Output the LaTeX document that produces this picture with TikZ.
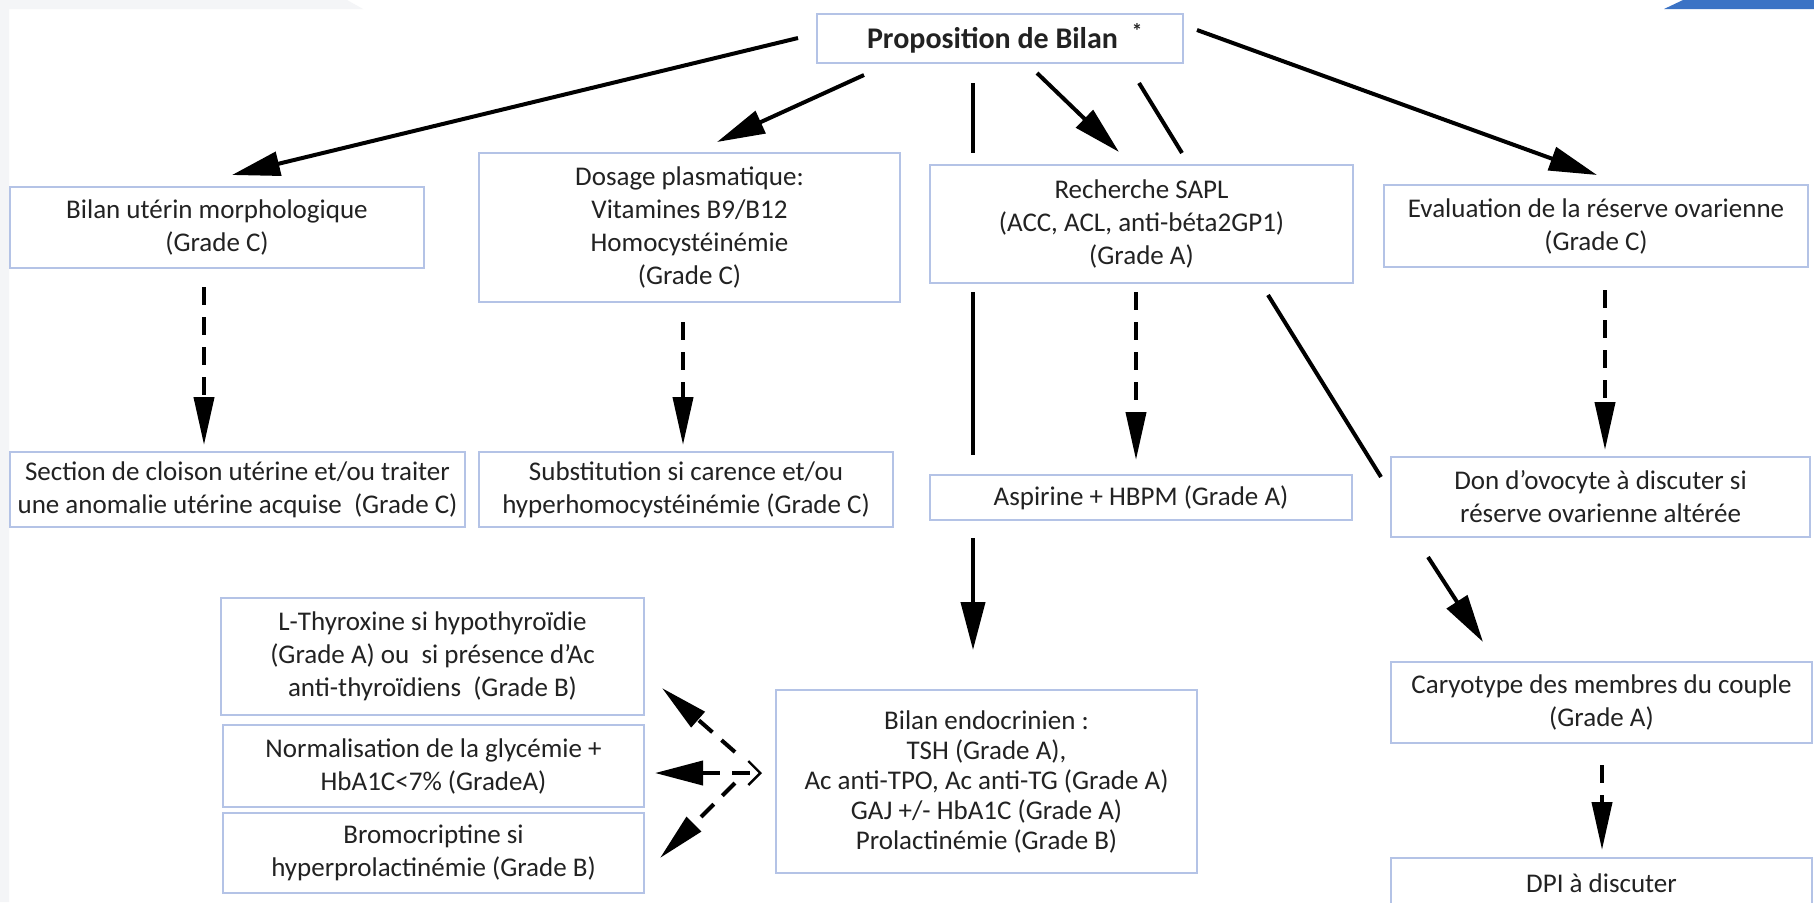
\documentclass[tikz,border=0pt]{standalone}
\usepackage{fontspec}
\setmainfont{Carlito}
\usetikzlibrary{arrows.meta}
\definecolor{boxc}{HTML}{B4C3E6}
\definecolor{txt}{HTML}{222222}
\definecolor{bgrey}{HTML}{F4F5F7}
\definecolor{cblue}{HTML}{3B73C5}
\tikzset{
  box/.style={draw=boxc, line width=1.2pt, fill=white, align=center, inner sep=0pt,
    font=\fontsize{13.5}{16.5}\selectfont, text=txt},
  arr/.style={line width=2pt, -{Triangle[length=24pt,width=12pt]}},
  darr/.style={line width=2pt, dash pattern=on 9pt off 6pt, -{Triangle[length=24pt,width=10pt]}},
  plain/.style={line width=2pt},
}
\begin{document}
\begin{tikzpicture}[x=0.5pt,y=-0.5pt]
\useasboundingbox (0,0) rectangle (1814,902);
\clip (0,0) rectangle (1814,902);
\fill[white] (0,0) rectangle (1814,902);
\fill[bgrey] (0,0) -- (347,0) -- (363,9) -- (9,9) -- (9,902) -- (0,902) -- cycle;
\fill[cblue] (1664,9) -- (1683,0) -- (1814,0) -- (1814,9) -- cycle;

% nodes
\node[box, minimum width=183pt, minimum height=24.5pt, font=\fontsize{15}{18}\selectfont\bfseries] (prop) at (1000,38.5)
  {\makebox[183pt][l]{\hspace{25pt}Proposition de Bilan\hspace{7pt}\textsuperscript{*}}};
\node[box, minimum width=207pt, minimum height=40.5pt] (uter) at (217,227.5) {Bilan utérin morphologique\\(Grade C)};
\node[box, minimum width=210.5pt, minimum height=74.5pt] (dos) at (689.5,227.5) {Dosage plasmatique:\\Vitamines B9/B12\\Homocystéinémie\\(Grade C)};
\node[box, minimum width=211.5pt, minimum height=59pt] (sapl) at (1141.5,224) {Recherche SAPL\\(ACC, ACL, anti-béta2GP1)\\(Grade A)};
\node[box, minimum width=212pt, minimum height=41pt] (eval) at (1596,226) {Evaluation de la réserve ovarienne\\(Grade C)};
\node[box, minimum width=227.5pt, minimum height=37.5pt] (sect) at (237.5,489.5) {Section de cloison utérine et/ou traiter\\une anomalie utérine acquise~~(Grade C)};
\node[box, minimum width=207pt, minimum height=37.5pt] (subst) at (686,489.5) {Substitution si carence et/ou\\hyperhomocystéinémie (Grade C)};
\node[box, minimum width=211pt, minimum height=22.5pt] (asp) at (1141,497.5) {Aspirine + HBPM (Grade A)};
\node[box, minimum width=209.5pt, minimum height=40pt] (don) at (1600.5,497) {Don d’ovocyte à discuter si\\réserve ovarienne altérée};
\node[box, minimum width=211.5pt, minimum height=58.5pt] (thyr) at (432.5,656.5) {L-Thyroxine si hypothyroïdie\\(Grade A) ou~ si présence d’Ac\\anti-thyroïdiens~ (Grade B)};
\node[box, minimum width=210.5pt, minimum height=41pt] (norm) at (433.5,766) {Normalisation de la glycémie +\\HbA1C<7\% (GradeA)};
\node[box, minimum width=210.5pt, minimum height=40pt] (brom) at (433.5,853) {Bromocriptine si\\hyperprolactinémie (Grade B)};
\node[box, minimum width=210.5pt, minimum height=91.5pt, font=\fontsize{13.5}{15}\selectfont] (endo) at (986.5,781.5) {Bilan endocrinien :\\TSH (Grade A),\\Ac anti-TPO, Ac anti-TG (Grade A)\\GAJ +/- HbA1C (Grade A)\\Prolactinémie (Grade B)};
\node[box, minimum width=210.5pt, minimum height=40.5pt] (cary) at (1601.5,702.5) {Caryotype des membres du couple\\(Grade A)};
\node[box, minimum width=210.5pt, minimum height=25pt] (dpi) at (1601.5,883) {DPI à discuter};

% connector end points
\coordinate (pU) at (798,38);   \coordinate (uT) at (232,175);
\coordinate (pD) at (864,75);   \coordinate (dT) at (717,142);
\coordinate (pV) at (973,83);   \coordinate (vA) at (973,153);
\coordinate (vB) at (973,292);  \coordinate (vC) at (973,455);
\coordinate (vD) at (973,538);  \coordinate (eT) at (973,650);
\coordinate (pS) at (1037,73);  \coordinate (sT) at (1119,152);
\coordinate (pK) at (1139,83);  \coordinate (kA) at (1182,153);
\coordinate (kB) at (1268,295); \coordinate (kC) at (1381,477);
\coordinate (kD) at (1428,557); \coordinate (cT) at (1483,642);
\coordinate (pE) at (1197,30);  \coordinate (evT) at (1597,175);
\coordinate (uB) at (204,287);  \coordinate (sectT) at (204,445);
\coordinate (dB) at (683,322);  \coordinate (subT) at (683,445);
\coordinate (sB) at (1136,292); \coordinate (aT) at (1136,460);
\coordinate (evB) at (1605,290); \coordinate (donT) at (1605,450);
\coordinate (cB) at (1602,765); \coordinate (dpiT) at (1602,850);
\coordinate (e1) at (735,752);  \coordinate (thT) at (662,688);
\coordinate (e2) at (762,773);  \coordinate (noT) at (655,773);
\coordinate (e3) at (735,783);  \coordinate (brT) at (660,858);

% connectors
\draw[arr] (pU) -- (uT);
\draw[arr] (pD) -- (dT);
\draw[plain] (pV) -- (vA);
\draw[plain] (vB) -- (vC);
\draw[arr] (vD) -- (eT);
\draw[arr] (pS) -- (sT);
\draw[plain] (pK) -- (kA);
\draw[plain] (kB) -- (kC);
\draw[arr] (kD) -- (cT);
\draw[arr] (pE) -- (evT);
\draw[darr] (uB) -- (sectT);
\draw[darr] (dB) -- (subT);
\draw[darr] (sB) -- (aT);
\draw[darr] (evB) -- (donT);
\draw[darr] (cB) -- (dpiT);
\draw[darr] (e1) -- (thT);
\draw[line width=2pt, dash pattern=on 9pt off 6pt, {Triangle[length=24pt,width=12pt]}-{Straight Barb[length=6pt,width=12pt,line width=1.2pt]}] (noT) -- (e2);
\draw[darr] (e3) -- (brT);
\end{tikzpicture}
\end{document}
